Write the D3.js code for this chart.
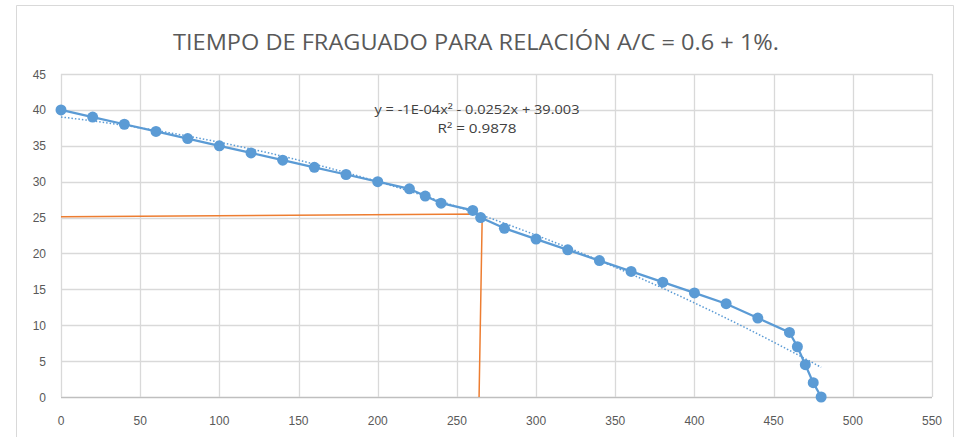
<!DOCTYPE html>
<html><head><meta charset="utf-8">
<script src="https://cdn.jsdelivr.net/npm/d3@7"></script>
<style>body{margin:0;background:#fff}svg{display:block}</style>
</head><body><svg id="c" width="956" height="437"></svg>
<script>
const titleText = "TIEMPO DE FRAGUADO PARA RELACIÓN A/C = 0.6 + 1%.";
const xValues = [0,20,40,60,80,100,120,140,160,180,200,220,230,240,260,265,280,300,320,340,360,380,400,420,440,460,465,470,475,480];
const yValues = [40,39,38,37,36,35,34,33,32,31,30,29,28,27,26,25,23.5,22,20.5,19,17.5,16,14.5,13,11,9,7,4.5,2,0];
const xTicks = [0,50,100,150,200,250,300,350,400,450,500,550];
const yTicks = [0,5,10,15,20,25,30,35,40,45];
const guideX = [0,266,264];
const guideY = [25.1,25.5,0];
const eqLines = ["y = -1E-04x² - 0.0252x + 39.003", "R² = 0.9878"];

const svg = d3.select("#c");
const x = d3.scaleLinear().domain([0,550]).range([61,932]);
const y = d3.scaleLinear().domain([0,45]).range([397,74]);
const font = "Liberation Sans, Arial, sans-serif";
const narrow = "'Liberation Sans Narrow', 'Open Sans', sans-serif";

// chart frame
svg.append("path").attr("d","M16.5,437 V5.5 H953.5 V437").attr("fill","none").attr("stroke","#d9d9d9");

// gridlines
svg.append("g").selectAll("line").data(yTicks).join("line")
  .attr("x1",x(0)).attr("x2",x(550)).attr("y1",d=>Math.round(y(d))+0.5).attr("y2",d=>Math.round(y(d))+0.5)
  .attr("stroke",d=>d===0?"#bfbfbf":"#d9d9d9").attr("stroke-width",1.3);
svg.append("g").selectAll("line").data(xTicks).join("line")
  .attr("y1",y(0)).attr("y2",y(45)).attr("x1",d=>Math.round(x(d))+0.5).attr("x2",d=>Math.round(x(d))+0.5)
  .attr("stroke","#d9d9d9").attr("stroke-width",1.3);

// tick labels
svg.append("g").selectAll("text").data(yTicks).join("text")
  .attr("x",46).attr("y",d=>y(d)+4.5).attr("text-anchor","end")
  .attr("font-family",font).attr("font-size",12).attr("fill","#595959").text(d=>d);
svg.append("g").selectAll("text").data(xTicks).join("text")
  .attr("x",d=>x(d)).attr("y",425).attr("text-anchor","middle")
  .attr("font-family",font).attr("font-size",12).attr("fill","#595959").text(d=>d);

// title
svg.append("text").attr("x",476).attr("y",50).attr("text-anchor","middle")
  .attr("font-family",narrow).attr("font-size",22).attr("fill","#595959")
  .attr("textLength",606).attr("lengthAdjust","spacingAndGlyphs").text(titleText);

// quadratic trendline (least squares fit of the data)
function quadFit(xs, ys){
  let S=[0,0,0,0,0], T=[0,0,0];
  xs.forEach((xi,i)=>{ for(let k=0;k<5;k++) S[k]+=Math.pow(xi,k); for(let k=0;k<3;k++) T[k]+=ys[i]*Math.pow(xi,k); });
  const A=[[S[0],S[1],S[2],T[0]],[S[1],S[2],S[3],T[1]],[S[2],S[3],S[4],T[2]]];
  for(let i=0;i<3;i++){ for(let j=i+1;j<3;j++){ const f=A[j][i]/A[i][i]; for(let k=i;k<4;k++) A[j][k]-=f*A[i][k]; } }
  const c=[0,0,0];
  for(let i=2;i>=0;i--){ let s=A[i][3]; for(let k=i+1;k<3;k++) s-=A[i][k]*c[k]; c[i]=s/A[i][i]; }
  return c;
}
const coef = quadFit(xValues, yValues);
const trendX = d3.range(0, 481, 4);
svg.append("path").datum(trendX)
  .attr("d", d3.line().x(d=>x(d)).y(d=>y(coef[0]+coef[1]*d+coef[2]*d*d)))
  .attr("fill","none").attr("stroke","#5B9BD5").attr("stroke-width",1.5).attr("stroke-dasharray","1.5,2");

// orange guide lines
svg.append("path").datum(guideX.map((d,i)=>[d,guideY[i]]))
  .attr("d", d3.line().x(d=>x(d[0])).y(d=>y(d[1])))
  .attr("fill","none").attr("stroke","#ED7D31").attr("stroke-width",1.5);

// data line and markers
const pts = xValues.map((d,i)=>[d,yValues[i]]);
svg.append("path").datum(pts)
  .attr("d", d3.line().x(d=>x(d[0])).y(d=>y(d[1])))
  .attr("fill","none").attr("stroke","#5B9BD5").attr("stroke-width",2.25);
svg.append("g").selectAll("circle").data(pts).join("circle")
  .attr("cx",d=>x(d[0])).attr("cy",d=>y(d[1])).attr("r",5.5).attr("fill","#5B9BD5");

// equation label
const eqLen = [205, 79];
svg.append("g").selectAll("text").data(eqLines).join("text")
  .attr("x",477).attr("y",(d,i)=>114+i*19).attr("text-anchor","middle")
  .attr("font-family",narrow).attr("font-size",13).attr("fill","#404040")
  .attr("textLength",(d,i)=>eqLen[i]).attr("lengthAdjust","spacingAndGlyphs").text(d=>d);
</script></body></html>
